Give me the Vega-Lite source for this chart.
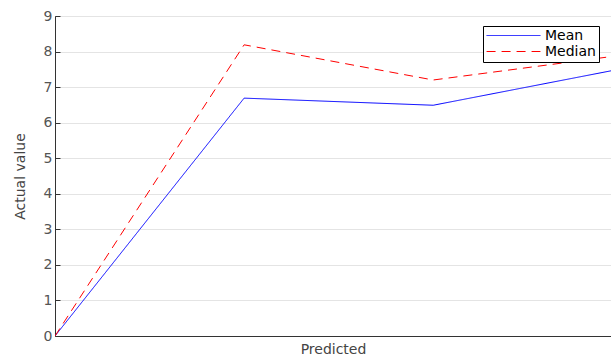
{
  "$schema": "https://vega.github.io/schema/vega-lite/v6.json",
  "autosize": "none",
  "width": 556,
  "height": 320,
  "padding": {"left": 55, "top": 16, "right": 0, "bottom": 22},
  "background": "white",
  "config": {
    "view": {"stroke": "#333", "strokeWidth": 1},
    "font": "DejaVu Sans"
  },
  "data": {
    "values": [
      {"x": 0, "value": 0, "series": "Mean"},
      {"x": 1, "value": 6.69, "series": "Mean"},
      {"x": 2, "value": 6.49, "series": "Mean"},
      {"x": 3, "value": 7.52, "series": "Mean"},
      {"x": 0, "value": 0, "series": "Median"},
      {"x": 1, "value": 8.19, "series": "Median"},
      {"x": 2, "value": 7.2, "series": "Median"},
      {"x": 3, "value": 7.9, "series": "Median"}
    ]
  },
  "mark": {"type": "line", "strokeWidth": 1, "clip": true},
  "encoding": {
    "x": {
      "field": "x", "type": "quantitative",
      "scale": {"domain": [0, 2.94], "nice": false, "zero": false},
      "axis": {
        "title": "Predicted", "labels": false, "ticks": false, "grid": false,
        "domainColor": "#333", "titleFont": "DejaVu Sans", "titleFontSize": 14,
        "titleFontWeight": "normal", "titleColor": "#444", "titlePadding": 6
      }
    },
    "y": {
      "field": "value", "type": "quantitative",
      "scale": {"domain": [0, 9], "nice": false},
      "axis": {
        "title": "Actual value", "values": [0,1,2,3,4,5,6,7,8,9],
        "tickSize": -5, "tickColor": "#333", "domainColor": "#333",
        "gridColor": "#e4e4e4", "labelFontSize": 14, "labelColor": "#555",
        "labelFont": "DejaVu Sans", "labelPadding": 8,
        "titleFont": "DejaVu Sans", "titleFontSize": 14, "titleFontWeight": "normal",
        "titleColor": "#444", "titlePadding": 16
      }
    },
    "color": {
      "field": "series", "type": "nominal",
      "scale": {"domain": ["Mean", "Median"], "range": ["#0000ff", "#ff0000"]},
      "legend": {
        "title": null, "orient": "none", "legendX": 428, "legendY": 10,
        "symbolType": "stroke", "symbolSize": 2900, "symbolStrokeWidth": 1,
        "clipHeight": 13,
        "strokeColor": "#000", "fillColor": "white", "padding": 3,
        "labelFontSize": 14, "labelFont": "DejaVu Sans", "labelColor": "#000",
        "rowPadding": 1, "labelOffset": 4
      }
    },
    "strokeDash": {
      "field": "series", "type": "nominal",
      "scale": {"domain": ["Mean", "Median"], "range": [[1, 0], [9, 6]]},
      "legend": null
    }
  }
}
